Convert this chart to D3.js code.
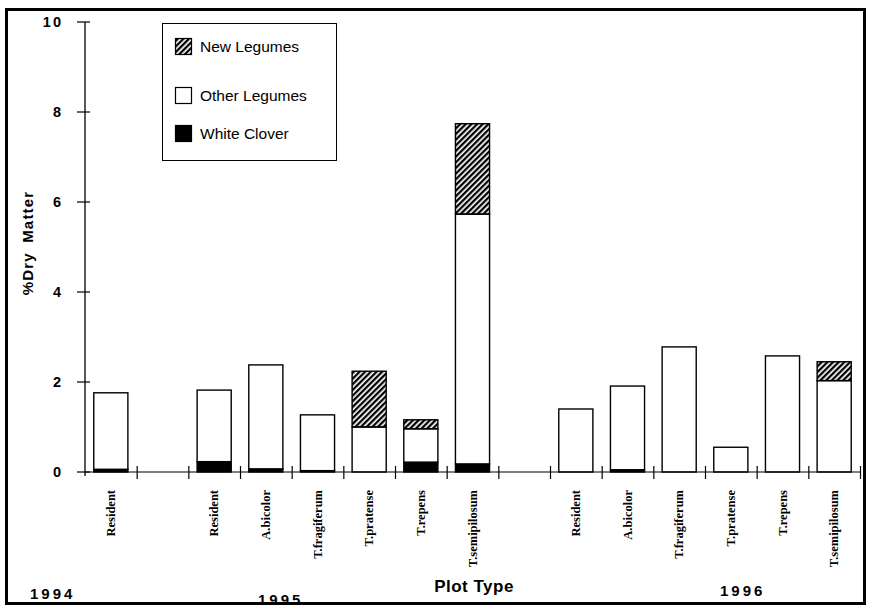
<!DOCTYPE html>
<html>
<head>
<meta charset="utf-8">
<script src="https://cdn.jsdelivr.net/npm/d3@7"></script>
<style>
  html, body { margin: 0; padding: 0; background: #fff; }
  #main { width: 869px; height: 607px; }
</style>
</head>
<body>
<div id="main"></div>
<script>
// Plot types, in order along the x axis ("" = empty slot)
const categories = ["Resident", "", "Resident", "A.bicolor", "T.fragiferum", "T.pratense", "T.repens", "T.semipilosum",
    "", "Resident", "A.bicolor", "T.fragiferum", "T.pratense", "T.repens", "T.semipilosum"];

// %Dry Matter by component (stacked bottom to top)
const whiteClover  = [0.06, 0, 0.23, 0.07, 0.03, 0.00, 0.22, 0.18, 0, 0.00, 0.05, 0.00, 0.00, 0.00, 0.00];
const otherLegumes = [1.70, 0, 1.59, 2.31, 1.24, 1.00, 0.74, 5.55, 0, 1.40, 1.86, 2.78, 0.55, 2.58, 2.03];
const newLegumes   = [0.00, 0, 0.00, 0.00, 0.00, 1.24, 0.20, 2.01, 0, 0.00, 0.00, 0.00, 0.00, 0.00, 0.42];

const yTicks = [0, 2, 4, 6, 8, 10];
const years = ["1994", "1995", "1996"];
const legendItems = ["New Legumes", "Other Legumes", "White Clover"];

function createChart() {
    d3.select("#main svg").remove();

    const width = 869, height = 607;
    const svg = d3.select("#main").append("svg")
        .attr("width", width)
        .attr("height", height);

    // hatch pattern for new legumes
    const defs = svg.append("defs");
    defs.append("pattern")
        .attr("id", "hatch")
        .attr("patternUnits", "userSpaceOnUse")
        .attr("width", 4)
        .attr("height", 4)
        .attr("patternTransform", "rotate(45)")
        .append("rect")
        .attr("x", 0).attr("y", 0)
        .attr("width", 2.3).attr("height", 4)
        .attr("fill", "#000");

    // outer frame
    svg.append("rect")
        .attr("x", 6.5).attr("y", 9.5)
        .attr("width", 858).attr("height", 594)
        .attr("fill", "none")
        .attr("stroke", "#000")
        .attr("stroke-width", 3);

    const x = d3.scaleBand()
        .domain(d3.range(categories.length))
        .range([85, 860])
        .paddingInner(0.34)
        .paddingOuter(0.17);

    const y = d3.scaleLinear()
        .domain([0, 10])
        .range([472, 22]);

    const rows = categories.map((c, i) => ({
        i: i,
        name: c,
        white: whiteClover[i],
        other: otherLegumes[i],
        newl: newLegumes[i]
    }));

    const stack = d3.stack().keys(["white", "other", "newl"]);
    const series = stack(rows.filter(d => d.name !== ""));
    const fills = { white: "#000", other: "#fff", newl: "url(#hatch)" };

    const g = svg.append("g");
    series.forEach(s => {
        g.append("g")
            .selectAll("rect")
            .data(s.filter(d => d[1] - d[0] > 0))
            .enter().append("rect")
            .attr("x", d => x(d.data.i))
            .attr("width", x.bandwidth())
            .attr("y", d => y(d[1]))
            .attr("height", d => y(d[0]) - y(d[1]))
            .attr("fill", fills[s.key])
            .attr("stroke", "#000")
            .attr("stroke-width", 1.4);
    });

    // y axis
    const yAxis = svg.append("g").attr("transform", "translate(85,0)");
    yAxis.append("line")
        .attr("y1", y(10)).attr("y2", y(0) + 4)
        .attr("stroke", "#000").attr("stroke-width", 1.3);
    yAxis.selectAll(".yt")
        .data(yTicks)
        .enter().append("line")
        .attr("x1", -8).attr("x2", 5)
        .attr("y1", d => y(d)).attr("y2", d => y(d))
        .attr("stroke", "#000").attr("stroke-width", 1.2);
    yAxis.selectAll(".yl")
        .data(yTicks)
        .enter().append("text")
        .attr("x", -22)
        .attr("y", d => y(d) + 5)
        .attr("text-anchor", "end")
        .attr("font-family", "Liberation Sans, Arial, sans-serif")
        .attr("font-weight", "bold")
        .attr("font-size", 14.5)
        .attr("letter-spacing", 2)
        .text(d => d);

    svg.append("text")
        .attr("transform", "translate(33,243) rotate(-90)")
        .attr("text-anchor", "middle")
        .attr("font-family", "Liberation Sans, Arial, sans-serif")
        .attr("font-weight", "bold")
        .attr("font-size", 15)
        .attr("letter-spacing", 1.2)
        .attr("word-spacing", 4)
        .text("%Dry Matter");

    // x axis
    const xAxis = svg.append("g");
    xAxis.append("line")
        .attr("x1", 85).attr("x2", 860)
        .attr("y1", y(0)).attr("y2", y(0))
        .attr("stroke", "#000").attr("stroke-width", 1.2);
    const step = x.step();
    xAxis.selectAll(".xt")
        .data(d3.range(1, categories.length + 1))
        .enter().append("line")
        .attr("x1", i => x(i - 1) + x.bandwidth() + step * 0.17 + 0.5)
        .attr("x2", i => x(i - 1) + x.bandwidth() + step * 0.17 + 0.5)
        .attr("y1", y(0) - 6).attr("y2", y(0) + 7)
        .attr("stroke", "#000").attr("stroke-width", 1.2);
    xAxis.selectAll(".xl")
        .data(rows.filter(d => d.name !== ""))
        .enter().append("text")
        .attr("transform", d => `translate(${x(d.i) + x.bandwidth() / 2 + 4},490) rotate(-90)`)
        .attr("text-anchor", "end")
        .attr("font-family", "Liberation Serif, Times New Roman, serif")
        .attr("font-weight", "bold")
        .attr("font-size", 12.5)
        .text(d => d.name);

    svg.append("text")
        .attr("x", 474).attr("y", 592)
        .attr("text-anchor", "middle")
        .attr("font-family", "Liberation Sans, Arial, sans-serif")
        .attr("font-weight", "bold")
        .attr("font-size", 17)
        .attr("letter-spacing", 0.5)
        .text("Plot Type");

    const yearPos = [[30, 599], [258, 605], [720, 596]];
    svg.selectAll(".yr")
        .data(years)
        .enter().append("text")
        .attr("x", (d, i) => yearPos[i][0])
        .attr("y", (d, i) => yearPos[i][1])
        .attr("font-family", "Liberation Sans, Arial, sans-serif")
        .attr("font-weight", "bold")
        .attr("font-size", 15)
        .attr("letter-spacing", 3)
        .text(d => d);

    // legend
    const legend = svg.append("g");
    legend.append("rect")
        .attr("x", 162.5).attr("y", 23.5)
        .attr("width", 174).attr("height", 137)
        .attr("fill", "#fff")
        .attr("stroke", "#000").attr("stroke-width", 1);
    const legFills = ["url(#hatch)", "#fff", "#000"];
    const legY = [38, 87, 125];
    legendItems.forEach((name, i) => {
        legend.append("rect")
            .attr("x", 175.5).attr("y", legY[i] + 0.5)
            .attr("width", 16).attr("height", 16)
            .attr("fill", legFills[i])
            .attr("stroke", "#000").attr("stroke-width", 1.2);
        legend.append("text")
            .attr("x", 200).attr("y", legY[i] + 14)
            .attr("font-family", "Liberation Sans, Arial, sans-serif")
            .attr("font-size", 15.5)
            .text(name);
    });
}

document.addEventListener("DOMContentLoaded", function() {
    createChart();
});
</script>
</body>
</html>
